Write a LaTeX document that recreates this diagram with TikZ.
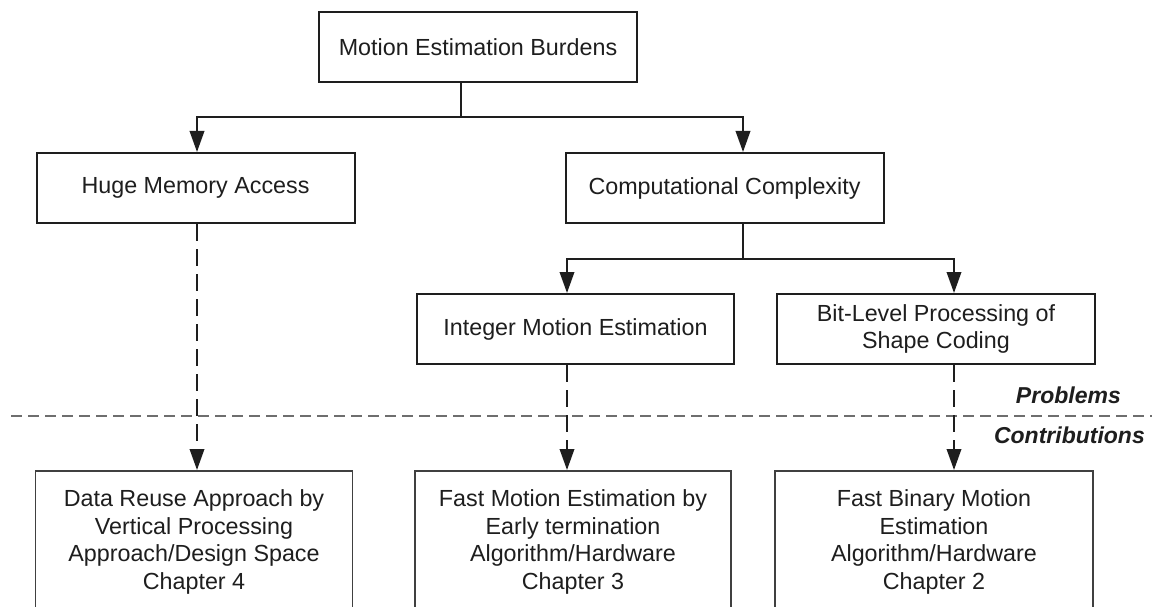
\documentclass[tikz,border=0pt]{standalone}
\usepackage{fontspec}
\setmainfont{Liberation Sans}
\usetikzlibrary{arrows.meta}
\definecolor{ink}{HTML}{1E1E1E}
\definecolor{sepgray}{HTML}{6E6E6E}
\begin{document}
\begin{tikzpicture}[x=1pt,y=-1pt,
  txt/.style={font=\fontsize{23.3}{27.5}\selectfont, text=ink},
  box/.style={txt, draw=ink, line width=2pt, minimum width=318pt, minimum height=70pt, inner sep=0pt, align=center},
  contrib/.style={txt, draw=ink!85, line width=1.5pt, minimum width=317pt, minimum height=142pt, anchor=north, inner sep=0pt, align=center},
  link/.style={draw=ink, line width=2pt},
  tip/.style={-{Triangle[length=21pt,width=14.5pt]}},
  dlink/.style={link, dash pattern=on 17pt off 8pt},
  sepline/.style={draw=sepgray, line width=1.6pt, dash pattern=on 11pt off 6pt},
  lbl/.style={font=\fontsize{23}{27.5}\selectfont\bfseries\itshape, text=ink, anchor=base east, inner sep=0pt}
]
\useasboundingbox (0,0) rectangle (1152,607);
\clip (0,0) rectangle (1152,607);
\fill[white] (0,0) rectangle (1152,607);

% nodes
\node[box] (top) at (478,47) {Motion Estimation Burdens};
\node[box] (hma) at (195.5,188) {Huge Memory Access};
\node[box] (cc) at (724.5,188) {Computational Complexity};
\node[box, minimum width=317pt] (ime) at (575.5,329) {Integer Motion Estimation};
\node[box] (blp) at (936,329) {Bit-Level Processing of\\Shape Coding};
\node[contrib] (c4) at (194,470) {Data Reuse Approach by\\Vertical Processing\\Approach/Design Space\\Chapter 4};
\node[contrib, minimum width=316pt] (c3) at (573,470) {Fast Motion Estimation by\\Early termination\\Algorithm/Hardware\\Chapter 3};
\node[contrib, minimum width=318pt] (c2) at (934,470) {Fast Binary Motion\\Estimation\\Algorithm/Hardware\\Chapter 2};

% separator and labels
\coordinate (sl) at (11,416);
\coordinate (sr) at (1152,416);
\draw[sepline] (sl) -- (sr);
\node[lbl] (prob) at (1121,403) {Problems};
\node[lbl] (contr) at (1145,443) {Contributions};

% junction coordinates
\coordinate (j0) at (461,117);
\coordinate (j1) at (743,259);
\coordinate (d1) at (197,0);
\coordinate (d2) at (567,0);
\coordinate (d3) at (954,0);

% solid connectors
\draw[link,tip] (top.south -| j0) -- (j0) -| (hma.north -| d1);
\draw[link,tip] (j0) -| (cc.north -| j1);
\draw[link,tip] (cc.south -| j1) -- (j1) -| (ime.north -| d2);
\draw[link,tip] (j1) -| (blp.north -| d3);

% dashed connectors
\draw[dlink,tip] (hma.south -| d1) -- (c4.north -| d1);
\draw[dlink,tip] (ime.south -| d2) -- (c3.north -| d2);
\draw[dlink,tip] (blp.south -| d3) -- (c2.north -| d3);
\end{tikzpicture}
\end{document}
